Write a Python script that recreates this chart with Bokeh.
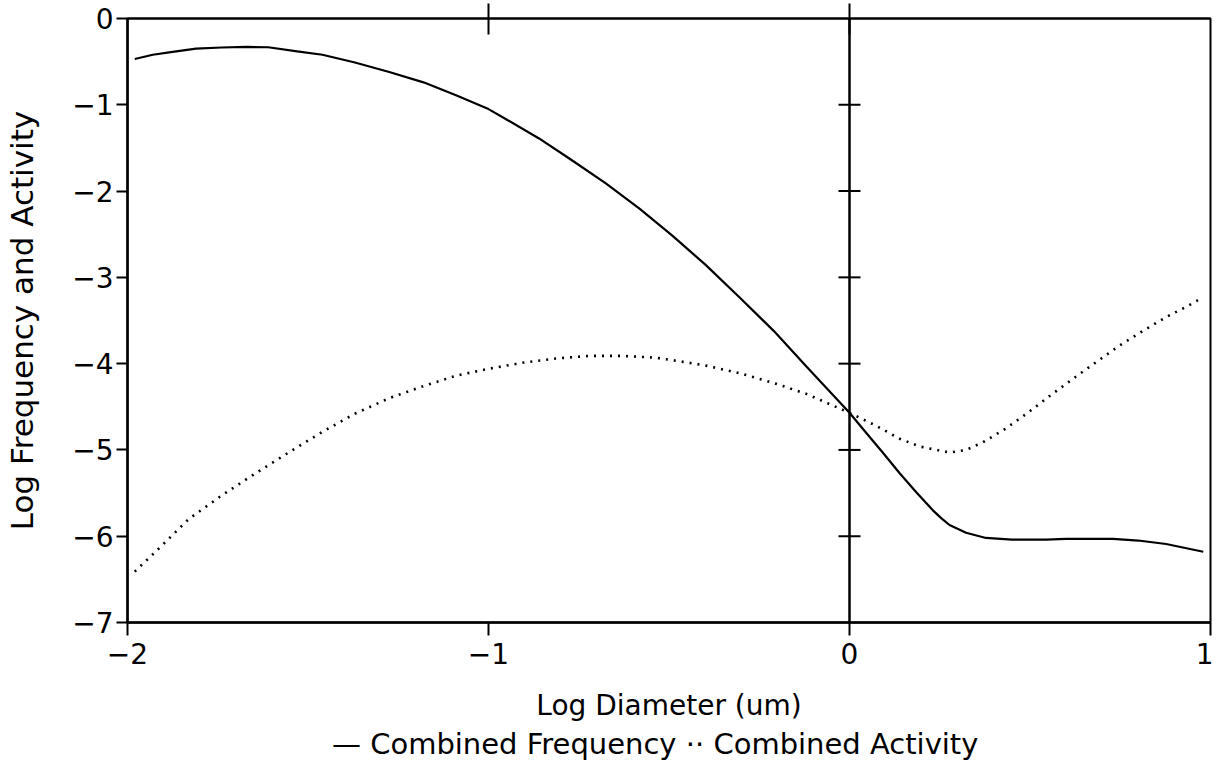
from bokeh.plotting import figure
from bokeh.models import (LinearAxis, FixedTicker, Range1d, Span,
                          ColumnDataSource, CustomJSTickFormatter)
from bokeh.embed import file_html
from bokeh.resources import INLINE

# ---- data ----
freq_x = [-1.98, -1.93, -1.875, -1.81, -1.74, -1.67, -1.61, -1.53, -1.46, -1.37, -1.275, -1.18,
          -1.09, -1.0, -0.95, -0.86, -0.77, -0.675, -0.58, -0.49, -0.40, -0.305, -0.21, -0.12,
          0.0, 0.046, 0.092, 0.139, 0.185, 0.231, 0.254, 0.277, 0.323, 0.378, 0.45, 0.545, 0.60,
          0.73, 0.80, 0.877, 0.98]
freq_y = [-0.47, -0.42, -0.386, -0.35, -0.336, -0.33, -0.333, -0.38, -0.42, -0.51, -0.62, -0.74,
          -0.89, -1.05, -1.17, -1.39, -1.64, -1.91, -2.21, -2.52, -2.85, -3.23, -3.62, -4.03,
          -4.57, -4.80, -5.03, -5.27, -5.49, -5.70, -5.79, -5.87, -5.96, -6.02, -6.04, -6.04, -6.03,
          -6.03, -6.05, -6.09, -6.18]

act_x = [-1.98, -1.92, -1.83, -1.74, -1.645, -1.55, -1.46, -1.37, -1.275, -1.18, -1.09, -1.0,
         -0.906, -0.813, -0.72, -0.63, -0.54, -0.49, -0.40, -0.305, -0.213, -0.12, 0.0, 0.074,
         0.139, 0.194, 0.277, 0.323, 0.37, 0.43, 0.494, 0.559, 0.624, 0.684, 0.748, 0.813, 0.877,
         0.938, 0.98]
act_y = [-6.41, -6.17, -5.80, -5.53, -5.27, -5.02, -4.79, -4.58, -4.40, -4.26, -4.14, -4.06,
         -3.99, -3.94, -3.91, -3.91, -3.93, -3.96, -4.02, -4.11, -4.22, -4.35, -4.57, -4.72,
         -4.87, -4.96, -5.03, -5.00, -4.91, -4.76, -4.57, -4.36, -4.16, -3.98, -3.79, -3.62, -3.46,
         -3.33, -3.23]

x_ticks = [-2, -1, 0, 1]
y_ticks = [0, -1, -2, -3, -4, -5, -6, -7]
mid_ticks = [-1, -2, -3, -4, -5, -6]
top_ticks = [-1, 0]

x_label = "Log Diameter (um)"
y_label = "Log Frequency and Activity"
series_names = ["Combined Frequency", "Combined Activity"]
series_keys = ["\u2014", "\u00b7\u00b7"]

FONT = "DejaVu Sans"
FS = "28px"

minus_fmt = CustomJSTickFormatter(code="return tick < 0 ? '\u2212' + Math.abs(tick) : String(tick);")

p = figure(width=1213, height=770, x_range=Range1d(-2, 1), y_range=Range1d(-7, 0),
           output_backend="svg", toolbar_location=None,
           min_border_left=127, min_border_right=3, min_border_top=18, min_border_bottom=148)
p.grid.visible = False
p.background_fill_color = "white"
p.border_fill_color = "white"
p.outline_line_color = "black"
p.outline_line_width = 2

# bottom axis
xa = p.xaxis[0]
xa.ticker = FixedTicker(ticks=x_ticks)
xa.formatter = minus_fmt
xa.major_tick_in = 0
xa.major_tick_out = 13
xa.minor_tick_out = 0
xa.minor_tick_in = 0
xa.axis_line_width = 2.5
xa.major_tick_line_width = 2
xa.major_label_text_font = FONT
xa.major_label_text_font_size = FS
xa.major_label_text_color = "black"
xa.major_label_standoff = 7
xa.axis_label = x_label
xa.axis_label_text_font = FONT
xa.axis_label_text_font_size = FS
xa.axis_label_text_font_style = "normal"
xa.axis_label_text_color = "black"
xa.axis_label_standoff = 22

# left axis
ya = p.yaxis[0]
ya.ticker = FixedTicker(ticks=y_ticks)
ya.formatter = minus_fmt
ya.major_tick_in = 0
ya.major_tick_out = 11
ya.minor_tick_out = 0
ya.minor_tick_in = 0
ya.axis_line_width = 2.5
ya.major_tick_line_width = 2
ya.major_label_text_font = FONT
ya.major_label_text_font_size = FS
ya.major_label_text_color = "black"
ya.major_label_standoff = 3
ya.axis_label = y_label
ya.axis_label_text_font = FONT
ya.axis_label_text_font_size = "31px"
ya.axis_label_text_font_style = "normal"
ya.axis_label_text_color = "black"
ya.axis_label_standoff = 29

# top axis: only the crossing tick marks (labels not drawn)
ta = LinearAxis(ticker=FixedTicker(ticks=top_ticks), major_tick_in=16, major_tick_out=15,
                minor_tick_in=0, minor_tick_out=0, major_label_text_font_size="1px",
                major_label_text_color=None, major_label_standoff=0,
                axis_line_width=2, major_tick_line_width=2)
p.add_layout(ta, "above")

# vertical line at x = 0 with crossing ticks
p.add_layout(Span(location=0, dimension="height", line_color="black", line_width=2.5))
p.scatter(x=[0] * len(mid_ticks), y=mid_ticks, marker="dash", size=22, line_width=2,
          line_color="black")

src_f = ColumnDataSource(dict(x=freq_x, y=freq_y))
src_a = ColumnDataSource(dict(x=act_x, y=act_y))
p.line("x", "y", source=src_f, line_color="black", line_width=2.2)
p.line("x", "y", source=src_a, line_color="black", line_width=2.6, line_dash="2 6")

# key line below the axis title (plotter-style legend), as a bare axis label
key_text = (series_keys[0] + " " + series_names[0] + "   " +
            series_keys[1] + "  " + series_names[1])
ka = LinearAxis(ticker=FixedTicker(ticks=[]), axis_line_color=None,
                major_tick_line_color=None, minor_tick_line_color=None,
                major_tick_in=0, major_tick_out=0, minor_tick_in=0, minor_tick_out=0,
                major_label_standoff=0,
                axis_label=key_text, axis_label_text_font=FONT, axis_label_text_font_size="29px",
                axis_label_text_font_style="normal", axis_label_text_color="black",
                axis_label_standoff=2)
p.add_layout(ka, "below")

open("out.html", "w").write(file_html(p, INLINE))
